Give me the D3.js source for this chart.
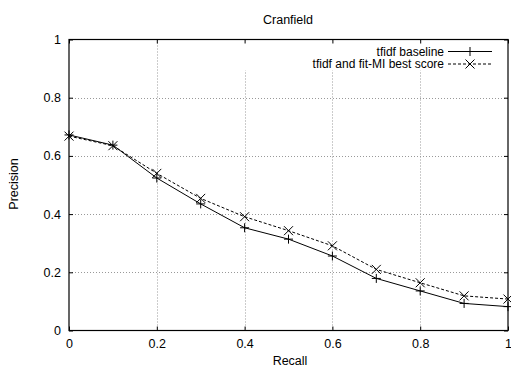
<!DOCTYPE html>
<html><head><meta charset="utf-8">
<script src="https://cdn.jsdelivr.net/npm/d3@7"></script>
<style>body{margin:0;background:#fff}svg{display:block}text{font-family:"Liberation Sans",Arial,sans-serif;font-size:12.5px;fill:#000}</style>
</head><body><svg id="c" width="511" height="367"></svg>
<script>
const recall = [0,0.1,0.2,0.3,0.4,0.5,0.6,0.7,0.8,0.9,1.0];
const baseline = [0.672,0.637,0.524,0.435,0.353,0.314,0.256,0.179,0.136,0.093,0.082];
const fitMI = [0.668,0.635,0.540,0.454,0.391,0.343,0.291,0.210,0.164,0.119,0.108];
const xTicks = [0,0.2,0.4,0.6,0.8,1];
const yTicks = [0,0.2,0.4,0.6,0.8,1];
const seriesNames = ["tfidf baseline","tfidf and fit-MI best score"];

const svg = d3.select("#c");
const L=69, R=508, T=39.5, B=330.5;
const x = d3.scaleLinear().domain([0,1]).range([L,R]);
const y = d3.scaleLinear().domain([0,1]).range([B,T]);
const fmt = d => d===0||d===1 ? String(d) : d.toFixed(1);

// grid
const grid = svg.append("g").attr("stroke","#999").attr("stroke-dasharray","1,2").attr("stroke-width",1);
xTicks.slice(1,-1).forEach(t=>grid.append("line").attr("x1",Math.round(x(t))+0.5).attr("x2",Math.round(x(t))+0.5).attr("y1",T).attr("y2",B));
yTicks.slice(1,-1).forEach(t=>grid.append("line").attr("x1",L).attr("x2",R).attr("y1",Math.round(y(t))+0.5).attr("y2",Math.round(y(t))+0.5));

// legend mask
svg.append("rect").attr("x",238).attr("y",T+1).attr("width",R-238-1).attr("height",30).attr("fill","#fff");

// axes with inner ticks
const ax = svg.append("g");
ax.append("g").attr("transform",`translate(0,${B})`).call(d3.axisBottom(x).tickValues(xTicks).tickSize(-4).tickPadding(9).tickFormat(fmt));
ax.append("g").attr("transform",`translate(0,${T})`).call(d3.axisTop(x).tickValues(xTicks).tickSize(-4).tickFormat(""));
ax.append("g").attr("transform",`translate(${L},0)`).call(d3.axisLeft(y).tickValues(yTicks).tickSize(-4).tickPadding(8).tickFormat(fmt));
ax.append("g").attr("transform",`translate(${R},0)`).call(d3.axisRight(y).tickValues(yTicks).tickSize(-4).tickFormat(""));
ax.selectAll(".domain").remove();
ax.selectAll("text").style("font-size","12.5px").style("font-family","'Liberation Sans',Arial,sans-serif").attr("fill","#000");
svg.append("rect").attr("x",L).attr("y",T).attr("width",R-L).attr("height",B-T).attr("fill","none").attr("stroke","#000").attr("stroke-width",1.2);

const line = d3.line().x((d,i)=>x(recall[i])).y(d=>y(d));
svg.append("path").datum(baseline).attr("d",line).attr("fill","none").attr("stroke","#000").attr("stroke-width",1);
svg.append("path").datum(fitMI).attr("d",line).attr("fill","none").attr("stroke","#000").attr("stroke-width",1).attr("stroke-dasharray","3,2");

const s=4.5;
function plus(g,cx,cy){g.append("path").attr("d",`M${cx-s},${cy}H${cx+s}M${cx},${cy-s}V${cy+s}`).attr("stroke","#000").attr("stroke-width",1);}
function cross(g,cx,cy){g.append("path").attr("d",`M${cx-s},${cy-s}L${cx+s},${cy+s}M${cx-s},${cy+s}L${cx+s},${cy-s}`).attr("stroke","#000").attr("stroke-width",1);}
const m = svg.append("g");
baseline.forEach((v,i)=>plus(m,x(recall[i]),y(v)));
fitMI.forEach((v,i)=>cross(m,x(recall[i]),y(v)));

// legend
const ly=[51.5,64];
svg.append("text").attr("x",444).attr("y",ly[0]).attr("dy","0.35em").attr("text-anchor","end").style("font-size","12px").text(seriesNames[0]);
svg.append("text").attr("x",444).attr("y",ly[1]).attr("dy","0.35em").attr("text-anchor","end").style("font-size","12px").text(seriesNames[1]);
svg.append("line").attr("x1",448).attr("x2",492).attr("y1",ly[0]).attr("y2",ly[0]).attr("stroke","#000");
svg.append("line").attr("x1",448).attr("x2",492).attr("y1",ly[1]).attr("y2",ly[1]).attr("stroke","#000").attr("stroke-dasharray","3,2");
plus(svg,470,ly[0]); cross(svg,470,ly[1]);

// titles
svg.append("text").attr("x",288).attr("y",20).attr("dy","0.35em").attr("text-anchor","middle").text("Cranfield");
svg.append("text").attr("x",290).attr("y",361).attr("dy","0.35em").attr("text-anchor","middle").text("Recall");
svg.append("text").attr("transform","translate(14,184) rotate(-90)").attr("dy","0.35em").attr("text-anchor","middle").text("Precision");
</script></body></html>
